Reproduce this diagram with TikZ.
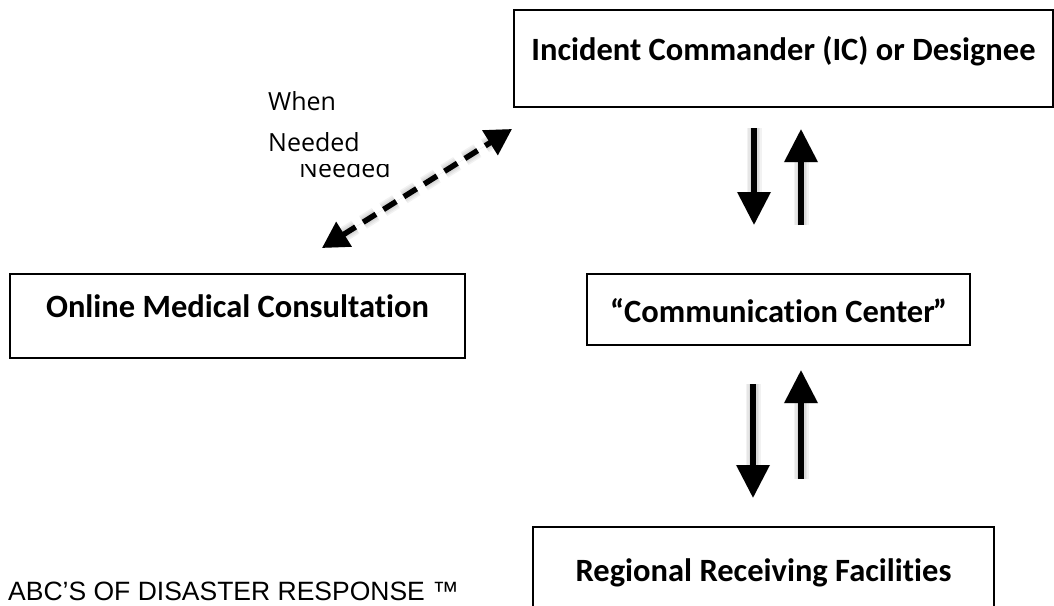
\documentclass[tikz,border=0pt]{standalone}
\usepackage{fontspec}
\setmainfont{Carlito}[Ligatures=CommonOff]
\newfontfamily\opensans{Open Sans}
\newfontfamily\libsans{Liberation Sans}
\usetikzlibrary{arrows.meta}
\begin{document}
\begin{tikzpicture}[x=1pt,y=-1pt,
  box/.style={draw=black, line width=2pt, inner sep=0pt, anchor=north west,
    font=\bfseries\fontsize{32.5}{39}\selectfont, text height=30pt, align=center},
  note/.style={font=\opensans\fontsize{25}{30}\selectfont, inner sep=0pt, anchor=base west},
  blockarrow/.style={line width=6pt, -{Triangle[length=33pt,width=32pt]}},
  dasharrow/.style={line width=5.5pt, dash pattern=on 15pt off 9pt,
    {Triangle[length=26pt,width=28pt]}-{Triangle[length=26pt,width=28pt]}},
  shadowlayer/.style={draw=black, fill=black, opacity=0.05}
]
\useasboundingbox (0,0) rectangle (1054,605);

% boxes
\node[box, minimum width=539pt, minimum height=97pt, text depth=27pt] (ic) at (513,9)
  {Incident Commander (IC) or Designee};
\node[box, minimum width=455pt, minimum height=84pt, text depth=28pt] (omc) at (9,273)
  {Online Medical Consultation};
\node[box, minimum width=383pt, minimum height=71pt, text depth=5pt] (comm) at (586,273)
  {“Communication Center\kern-2pt”};
\node[box, minimum width=461pt, minimum height=94pt, text depth=16pt] (rrf) at (532,526)
  {Regional Receiving Facilities};

% labels
\node[note] (when) at (268,110.7) {When};
\node[note] (needed) at (268,151) {Needed};
\begin{scope}
  \clip (290,164.5) rectangle (400,190);
  \node[note] (ghost) at (299,177) {Needed};
\end{scope}
\node[font=\libsans\fontsize{26.5}{30}\selectfont, inner sep=0pt, text depth=0pt, anchor=base west] (abc) at (8,600.5)
  {ABC’S OF DISASTER RESPONSE ™};

% arrow end points
\coordinate (a1s) at (754,128); \coordinate (a1e) at (754,225);
\coordinate (a2s) at (801,225); \coordinate (a2e) at (801,129);
\coordinate (a3s) at (753,384); \coordinate (a3e) at (753,498);
\coordinate (a4s) at (801,479); \coordinate (a4e) at (801,370);
\coordinate (d1) at (322,248); \coordinate (d2) at (512,129);

% soft shadows
\foreach \sx/\sy/\lw in {2/4/6, 3/5/9, 4/7/12, 5/8/15}{
  \begin{scope}[shift={(\sx,\sy)}]
    \draw[shadowlayer, blockarrow, line width=\lw pt] (a1s) -- (a1e);
    \draw[shadowlayer, blockarrow, line width=\lw pt] (a2s) -- (a2e);
    \draw[shadowlayer, blockarrow, line width=\lw pt] (a3s) -- (a3e);
    \draw[shadowlayer, blockarrow, line width=\lw pt] (a4s) -- (a4e);
    \draw[shadowlayer, dasharrow, line width=\lw pt] (d1) -- (d2);
  \end{scope}
}

% arrows
\draw[blockarrow] (a1s) -- (a1e);
\draw[blockarrow] (a2s) -- (a2e);
\draw[blockarrow] (a3s) -- (a3e);
\draw[blockarrow] (a4s) -- (a4e);
\draw[dasharrow] (d1) -- (d2);
\end{tikzpicture}
\end{document}
